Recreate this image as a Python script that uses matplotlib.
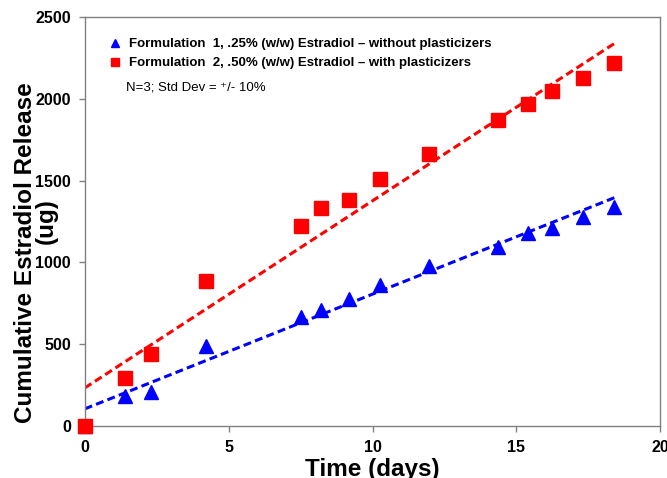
#!/usr/bin/env python3
import matplotlib
matplotlib.use("Agg")
import matplotlib.pyplot as plt
import numpy as np
from matplotlib.lines import Line2D

plt.rcParams['font.family'] = ['Liberation Sans', 'DejaVu Sans']

# time points (days)
days = [0, 1.4, 2.3, 4.2, 7.5, 8.2, 9.2, 10.25, 11.95, 14.35, 15.4, 16.25, 17.3, 18.4]
# cumulative release (ug)
form1 = [0, 183, 208, 489, 666, 709, 776, 862, 978, 1094, 1180, 1210, 1278, 1339]
form2 = [0, 293, 440, 886, 1222, 1332, 1381, 1510, 1663, 1870, 1968, 2048, 2127, 2219]
# linear trend lines (intercept, slope)
trend1 = (104, 70.2)
trend2 = (232, 114.5)
trend_x = [0, 18.45]

label1 = "Formulation  1, .25% (w/w) Estradiol \u2013 without plasticizers"
label2 = "Formulation  2, .50% (w/w) Estradiol \u2013 with plasticizers"
note = "N=3; Std Dev = \u207a/- 10%"

blue = "#0000FF"
red = "#FF0000"

fig = plt.figure(figsize=(6.67, 4.78), dpi=100)
ax = fig.add_axes([0.127, 0.109, 0.863, 0.855])

tx = np.array(trend_x)
ax.plot(tx, trend2[0] + trend2[1] * tx, color=red, lw=2.2, dashes=(2.6, 1.4))
ax.plot(tx, trend1[0] + trend1[1] * tx, color=blue, lw=2.2, dashes=(2.6, 1.4))

ax.plot(days, form1, '^', color=blue, ms=10, clip_on=False, zorder=3)
ax.plot(days, form2, 's', color=red, ms=10, clip_on=False, zorder=4)

ax.set_xlim(0, 20)
ax.set_ylim(0, 2500)
ax.set_xticks(np.arange(0, 21, 5))
ax.set_yticks(np.arange(0, 2501, 500))
for lab in ax.get_xticklabels() + ax.get_yticklabels():
    lab.set_fontweight('bold')
    lab.set_fontsize(11.5)
ax.tick_params(direction='out', length=4, width=1, color='#808080', pad=6)

for sp in ax.spines.values():
    sp.set_color('#808080')
    sp.set_linewidth(1)

ax.set_xlabel("Time (days)", fontsize=17.5, fontweight='bold', labelpad=2)
ax.set_ylabel("Cumulative Estradiol Release", fontsize=17.5, fontweight='bold')
ax.yaxis.set_label_coords(-0.083, 0.425)
ax.text(-0.047, 0.5, "(ug)", transform=ax.transAxes, rotation=90,
        fontsize=17.5, fontweight='bold', ha='right', va='center')

handles = [Line2D([], [], ls='none', marker='^', color=blue, ms=6),
           Line2D([], [], ls='none', marker='s', color=red, ms=6)]
leg = ax.legend(handles, [label1, label2], loc='upper left',
                bbox_to_anchor=(0.035, 0.962), frameon=False,
                handlelength=0.8, handletextpad=0.6, labelspacing=0.5,
                prop={'weight': 'bold', 'size': 9.55}, borderaxespad=0)
ax.text(0.071, 0.829, note, transform=ax.transAxes, fontsize=9.5,
        va='center', ha='left')

fig.savefig("out.png", dpi=100)
